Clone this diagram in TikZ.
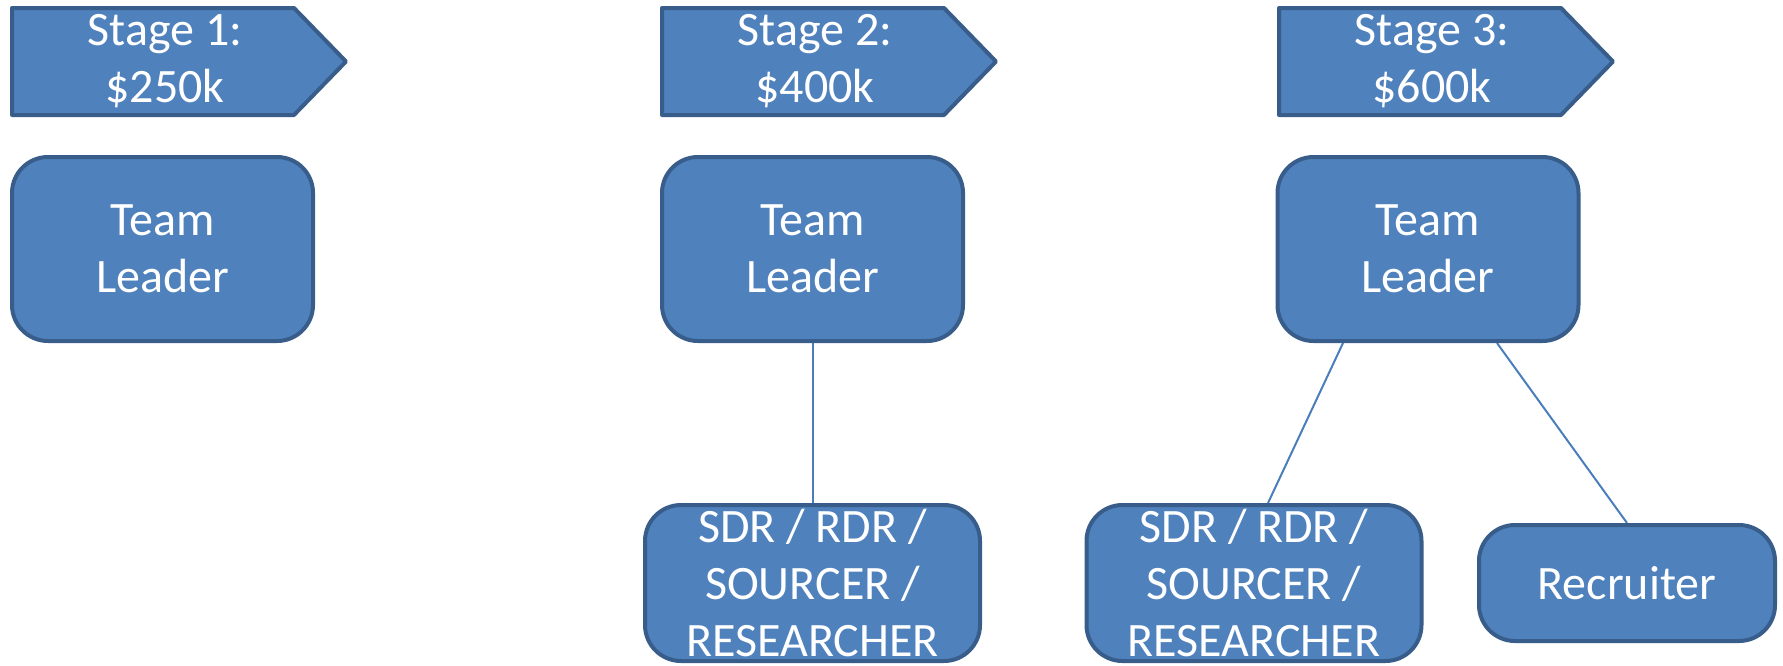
\documentclass[tikz,border=0pt]{standalone}
\usepackage{fontspec}
\setmainfont{Carlito}
\usetikzlibrary{backgrounds}
\definecolor{boxfill}{HTML}{4F81BD}
\definecolor{boxline}{HTML}{385D8A}
\definecolor{linkline}{HTML}{4A7EBB}
\tikzset{
  label font/.style={font=\fontsize{24}{28.5}\selectfont, text=white, align=center},
  rolebox/.style={draw=boxline, fill=boxfill, line width=2pt, rounded corners=18pt,
                  inner sep=0pt, label font},
  leaderbox/.style={rolebox, minimum width=150.5pt, minimum height=92pt},
  staffbox/.style={rolebox, minimum width=167.5pt, minimum height=78pt},
  recbox/.style={rolebox, minimum width=148pt, minimum height=58pt},
  stagearrow/.style={draw=boxline, fill=boxfill, line width=2pt, line join=round},
  stagetext/.style={label font, inner sep=0pt},
  link/.style={draw=linkline, line width=1pt}
}
% pentagon stage marker starting at left edge #1
\newcommand{\stagemark}[1]{%
  \path[stagearrow] (#1+2,8) -- (#1+284,8) -- (#1+336,61.5) -- (#1+284,115) -- (#1+2,115) -- cycle;}
\begin{document}
\begin{tikzpicture}[x=0.5pt,y=-0.5pt]
\useasboundingbox (0,0) rectangle (1783,665);

% stage headers
\stagemark{10}
\stagemark{660}
\stagemark{1277}
\node[stagetext] (st1) at (165,61) {Stage 1:\\\$250k};
\node[stagetext] (st2) at (815,61) {Stage 2:\\\$400k};
\node[stagetext] (st3) at (1432,61) {Stage 3:\\\$600k};

% team leaders
\node[leaderbox] (tl1) at (162.5,249) {Team\\Leader};
\node[leaderbox] (tl2) at (812.5,249) {Team\\Leader};
\node[leaderbox] (tl3) at (1428,249) {Team\\Leader};

% staff
\node[staffbox] (sdr2) at (812.5,583) {SDR / RDR /\\SOURCER /\\RESEARCHER};
\node[staffbox] (sdr3) at (1254,583) {SDR / RDR /\\SOURCER /\\RESEARCHER};
\node[recbox] (rec) at (1627,583) {Recruiter};

% reporting lines
\begin{scope}[on background layer]
\draw[link] (tl2.south) -- (sdr2.north);
\draw[link] ([xshift=-42.5pt]tl3.south) -- ([xshift=7pt]sdr3.north);
\draw[link] ([xshift=34.5pt]tl3.south) -- (rec.north);
\end{scope}
\end{tikzpicture}
\end{document}
